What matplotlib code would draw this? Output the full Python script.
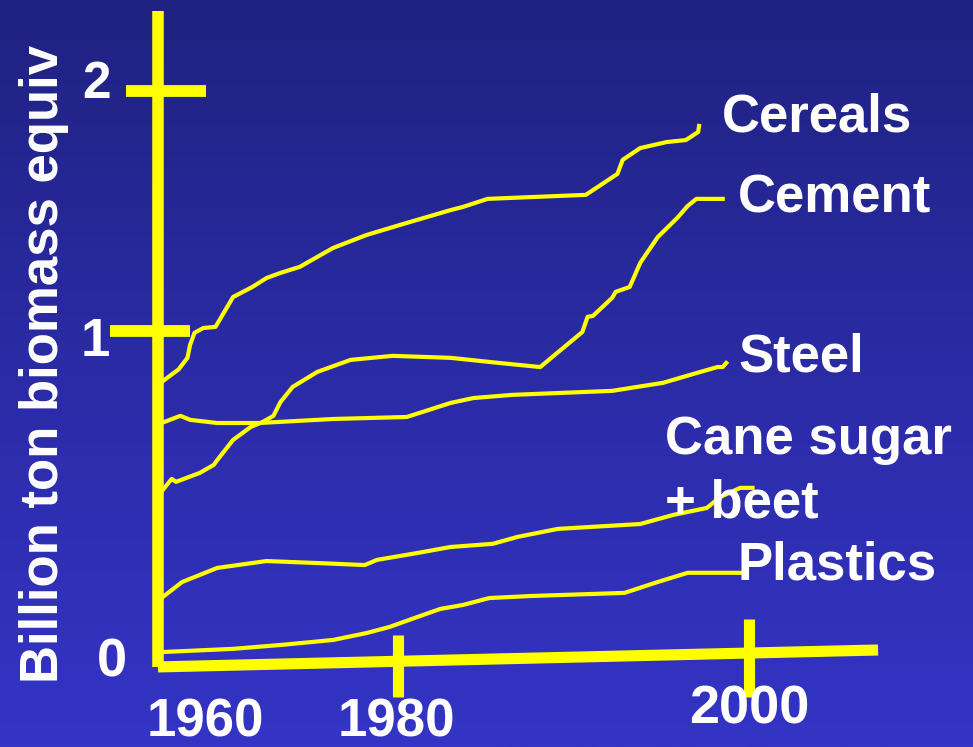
import numpy as np
import matplotlib
matplotlib.use('Agg')
import matplotlib.pyplot as plt
from matplotlib.colors import LinearSegmentedColormap

# values (year, billion ton biomass equiv)
cereals_yr = [1966.4, 1967.5, 1968.0, 1968.15, 1968.4, 1968.9, 1969.6, 1970.6, 1971.7, 1972.5,
              1973.3, 1974.4, 1976.3, 1978.2, 1980.1, 1983.0, 1983.7, 1985.1, 1990.7, 1992.5,
              1992.8, 1993.8, 1995.3, 1996.4, 1997.1, 1997.15]
cereals_val = [0.98, 1.03, 1.07, 1.115, 1.157, 1.174, 1.178, 1.282, 1.317, 1.348,
               1.366, 1.387, 1.453, 1.498, 1.533, 1.585, 1.596, 1.624, 1.638, 1.711,
               1.76, 1.801, 1.822, 1.829, 1.857, 1.878]

cement_yr = [1966.6, 1967.1, 1967.35, 1968.7, 1969.5, 1969.7, 1970.6, 1971.6, 1972.3, 1972.9,
             1973.3, 1974.0, 1975.4, 1977.3, 1979.7, 1983.0, 1985.8, 1988.1, 1990.5, 1990.8,
             1991.1, 1992.2, 1992.4, 1993.2, 1993.8, 1994.8, 1995.9, 1996.5, 1997.0, 1998.5]
cement_val = [0.61, 0.648, 0.638, 0.669, 0.697, 0.714, 0.784, 0.829, 0.847, 0.868,
              0.916, 0.969, 1.021, 1.063, 1.077, 1.07, 1.052, 1.038, 1.16, 1.213,
              1.216, 1.279, 1.30, 1.317, 1.401, 1.491, 1.557, 1.599, 1.624, 1.624]

steel_yr = [1966.7, 1967.6, 1968.15, 1969.7, 1972.1, 1976.3, 1980.5, 1983.0, 1984.3, 1986.5,
            1992.2, 1995.1, 1997.0, 1998.2, 1998.5, 1998.7]
steel_val = [0.847, 0.868, 0.854, 0.843, 0.843, 0.857, 0.864, 0.913, 0.93, 0.941,
             0.955, 0.983, 1.017, 1.038, 1.038, 1.052]

sugar_yr = [1966.6, 1967.7, 1969.7, 1972.5, 1975.4, 1978.1, 1978.8, 1981.1, 1983.0, 1985.4,
            1986.8, 1989.1, 1993.8, 1995.7, 1997.6, 1998.35, 1999.5, 2000.2]
sugar_val = [0.237, 0.289, 0.338, 0.362, 0.355, 0.348, 0.366, 0.39, 0.411, 0.422,
             0.446, 0.474, 0.491, 0.523, 0.547, 0.585, 0.617, 0.617]

plastics_yr = [1966.6, 1970.6, 1973.4, 1976.3, 1978.2, 1979.5, 1981.1, 1982.4, 1983.7, 1985.2,
               1987.5, 1992.9, 1994.8, 1996.5, 1999.6]
plastics_val = [0.045, 0.056, 0.07, 0.087, 0.111, 0.132, 0.167, 0.195, 0.209, 0.233,
                0.24, 0.251, 0.289, 0.321, 0.321]

series = [(cereals_yr, cereals_val), (cement_yr, cement_val), (steel_yr, steel_val),
          (sugar_yr, sugar_val), (plastics_yr, plastics_val)]

series_labels = ['Cereals', 'Cement', 'Steel', 'Cane sugar', '+ beet', 'Plastics']
year_labels = ['1960', '1980', '2000']
value_labels = ['0', '1', '2']

YEL = '#ffff00'
bold = dict(color='white', fontweight='bold', family=['Liberation Sans', 'DejaVu Sans'])

fig = plt.figure(figsize=(9.73, 7.47), dpi=100)
ax = fig.add_axes([0, 0, 1, 1])
xlim = (1957.32, 2012.76)
ylim = (-0.286, 2.317)
ax.set_xlim(xlim)
ax.set_ylim(ylim)
ax.axis('off')

# background gradient, dark navy on top to brighter blue at the bottom
cmap = LinearSegmentedColormap.from_list('bg', ['#3434c6', '#2b2ba6', '#1f2280'])
grad = np.linspace(0, 1, 256).reshape(-1, 1)
ax.imshow(grad, cmap=cmap, aspect='auto', origin='lower',
          extent=[xlim[0], xlim[1], ylim[0], ylim[1]], zorder=0)

# hand-drawn axes
ax.plot([1966.3, 1966.3], [-0.007, 2.279], color=YEL, lw=8.3, solid_capstyle='butt', zorder=2)
ax.plot([1966.32, 2007.35], [-0.007, 0.052], color=YEL, lw=8.0, solid_capstyle='butt', zorder=2)
ax.plot([1964.5, 1969.06], [2.0, 2.0], color=YEL, lw=8.5, solid_capstyle='butt', zorder=2)
ax.plot([1963.59, 1968.15], [1.164, 1.164], color=YEL, lw=8.5, solid_capstyle='butt', zorder=2)
ax.plot([1980, 1980], [0.105, -0.111], color=YEL, lw=8.0, solid_capstyle='butt', zorder=2)
ax.plot([2000, 2000], [0.160, -0.111], color=YEL, lw=8.0, solid_capstyle='butt', zorder=2)

for xs, ys in series:
    ax.plot(xs, ys, color=YEL, lw=3.0, solid_joinstyle='round', zorder=3)

# axis numbers
ax.text(1963.7, 0.01, value_labels[0], fontsize=39, ha='center', va='center', **bold)
ax.text(1962.74, 1.125, value_labels[1], fontsize=38, ha='center', va='center', **bold)
ax.text(1962.8, 2.021, value_labels[2], fontsize=37, ha='center', va='center', **bold)
ax.text(1969.0, -0.202, year_labels[0], fontsize=38, ha='center', va='center', **bold)
ax.text(1979.9, -0.202, year_labels[1], fontsize=38, ha='center', va='center', **bold)
ax.text(2000.0, -0.157, year_labels[2], fontsize=39, ha='center', va='center', **bold)

ax.text(1959.85, 1.049, 'Billion ton biomass equiv', rotation=90, fontsize=38,
        ha='center', va='center', **bold)

# series names
label_pos = [(1998.46, 1.906), (1999.37, 1.627), (1999.37, 1.07),
             (1995.21, 0.784), (1995.21, 0.564), (1999.37, 0.345)]
for name, (lx, ly) in zip(series_labels, label_pos):
    ax.text(lx, ly, name, fontsize=38, ha='left', va='center', zorder=5, **bold)

fig.savefig('out.png', dpi=100)
